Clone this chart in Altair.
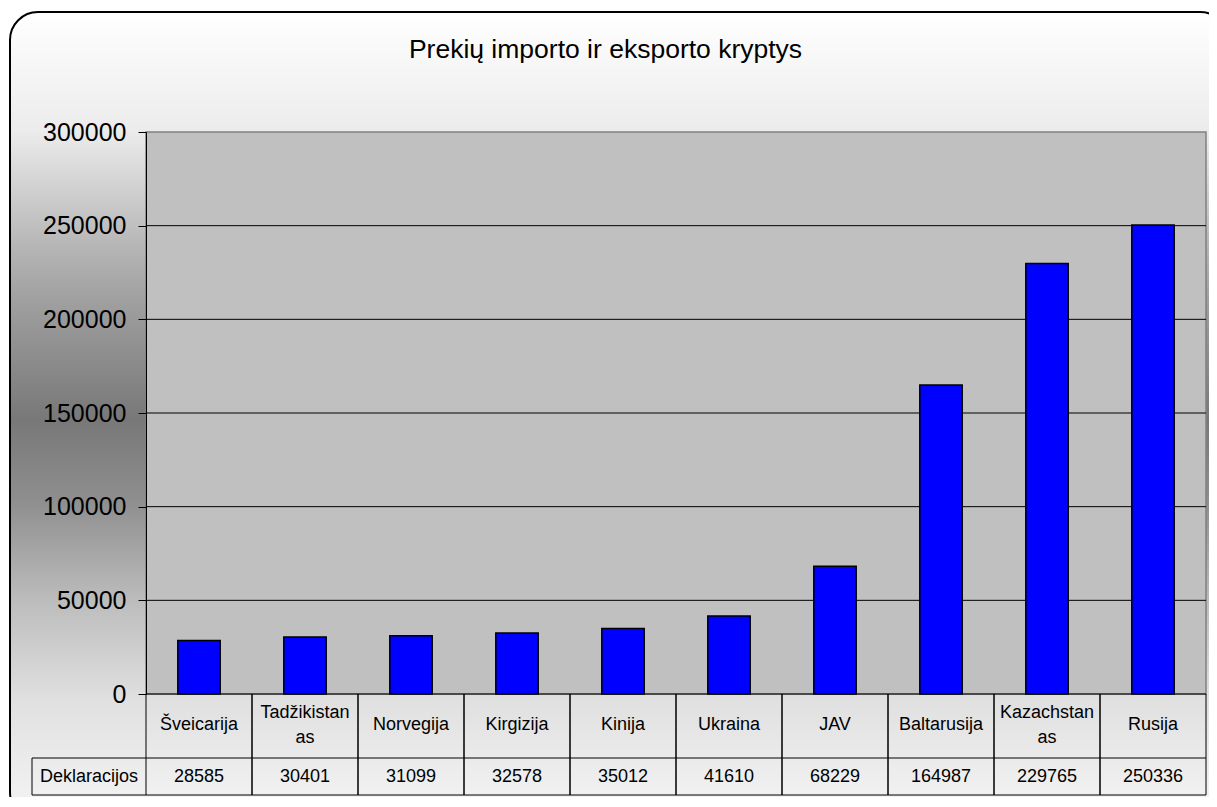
import altair as alt
import pandas as pd

# ---- data ----
categories = ["Šveicarija", "Tadžikistanas", "Norvegija", "Kirgizija", "Kinija",
              "Ukraina", "JAV", "Baltarusija", "Kazachstanas", "Rusija"]
table_labels = ["Šveicarija", "Tadžikistan\nas", "Norvegija", "Kirgizija", "Kinija",
                "Ukraina", "JAV", "Baltarusija", "Kazachstan\nas", "Rusija"]
declarations = [28585, 30401, 31099, 32578, 35012, 41610, 68229, 164987, 229765, 250336]
y_ticks = [0, 50000, 100000, 150000, 200000, 250000, 300000]
grid_values = [0, 50000, 100000, 150000, 200000, 250000]
title_text = "Prekių importo ir eksporto kryptys"
row_label = "Deklaracijos"

df = pd.DataFrame({
    "category": categories,
    "label": table_labels,
    "value": declarations,
    "idx": list(range(len(categories))),
})
grid_df = pd.DataFrame({"tick": grid_values})

FONT = "Liberation Sans"
PW, PH = 1060, 562          # plot area
SVG_W, SVG_H = 1201, 789
TFS = 18                    # table font size

xs = alt.Scale(domain=[0, len(categories)], nice=False, zero=False)
ys = alt.Scale(domain=[0, 300000], nice=False)

y_axis = alt.Axis(
    values=y_ticks, title=None, grid=False, labelFont=FONT, labelFontSize=25,
    labelColor="black", tickColor="black", tickSize=8, tickWidth=1,
    domainColor="black", domainWidth=1, labelPadding=12, labelFlush=False,
    labelOverlap=False, zindex=1, format="d",
)

one = pd.DataFrame({"a": [1]})

gradient = {
    "gradient": "linear", "x1": 0, "y1": 0, "x2": 0, "y2": 1,
    "stops": [
        {"offset": 0.0, "color": "#ffffff"},
        {"offset": 0.146, "color": "#ececec"},
        {"offset": 0.295, "color": "#b4b4b4"},
        {"offset": 0.356, "color": "#a0a0a0"},
        {"offset": 0.505, "color": "#787878"},
        {"offset": 0.604, "color": "#8e8e8e"},
        {"offset": 0.728, "color": "#bcbcbc"},
        {"offset": 0.851, "color": "#e0e0e0"},
        {"offset": 0.963, "color": "#f0f0f0"},
        {"offset": 1.0, "color": "#f4f4f4"},
    ],
}

# outer rounded chart box
box = alt.Chart(one).mark_rect(
    fill=gradient, stroke="black", strokeWidth=2, cornerRadius=28
).encode(
    x=alt.value(-136), x2=alt.value(1082), y=alt.value(-120), y2=alt.value(688)
)

# plot area background
plot_bg = alt.Chart(one).mark_rect(
    fill="#c0c0c0", stroke="#808080", strokeWidth=1.5
).encode(
    x=alt.value(0), x2=alt.value(PW), y=alt.value(0), y2=alt.value(PH)
)

grid = alt.Chart(grid_df).mark_rule(color="black", strokeWidth=1).encode(
    y=alt.Y("tick:Q", scale=ys, axis=y_axis)
)

bars = alt.Chart(df).transform_calculate(
    x0="datum.idx + 0.3", x1="datum.idx + 0.7", zero="0"
).mark_rect(fill="#0000ff", stroke="black", strokeWidth=1.5).encode(
    x=alt.X("x0:Q", scale=xs, axis=None),
    x2="x1:Q",
    y=alt.Y("value:Q", scale=ys, axis=y_axis),
    y2="zero:Q",
)

# data table
vlines_left = alt.Chart(df).mark_rule(color="black", strokeWidth=1).encode(
    x=alt.X("idx:Q", scale=xs, axis=None), y=alt.value(PH), y2=alt.value(663)
)
vlines_right = alt.Chart(df).transform_calculate(e="datum.idx + 1").mark_rule(
    color="black", strokeWidth=1
).encode(x=alt.X("e:Q", scale=xs, axis=None), y=alt.value(PH), y2=alt.value(663))

hline1 = alt.Chart(one).mark_rule(color="black", strokeWidth=1).encode(
    x=alt.value(-114), x2=alt.value(PW), y=alt.value(626)
)
hline2 = alt.Chart(one).mark_rule(color="black", strokeWidth=1).encode(
    x=alt.value(-114), x2=alt.value(PW), y=alt.value(663)
)
lcell = alt.Chart(one).mark_rule(color="black", strokeWidth=1).encode(
    x=alt.value(-114), y=alt.value(626), y2=alt.value(663)
)

lbl_base = alt.Chart(df).transform_calculate(
    mid="datum.idx + 0.5",
    parts="split(datum.label, '\\n')",
    n="length(datum.parts)",
    line1="datum.parts[0]",
    line2="datum.n > 1 ? datum.parts[1] : ''",
)
text_kw = dict(font=FONT, fontSize=TFS, color="black", align="center", baseline="middle")

single_text = lbl_base.transform_filter("datum.n == 1").mark_text(**text_kw).encode(
    x=alt.X("mid:Q", scale=xs, axis=None), y=alt.value(593), text="line1:N"
)
wrap1_text = lbl_base.transform_filter("datum.n > 1").mark_text(**text_kw).encode(
    x=alt.X("mid:Q", scale=xs, axis=None), y=alt.value(581), text="line1:N"
)
wrap2_text = lbl_base.transform_filter("datum.n > 1").mark_text(**text_kw).encode(
    x=alt.X("mid:Q", scale=xs, axis=None), y=alt.value(606), text="line2:N"
)

val_text = alt.Chart(df).transform_calculate(mid="datum.idx + 0.5").mark_text(
    **text_kw
).encode(x=alt.X("mid:Q", scale=xs, axis=None), y=alt.value(645),
         text=alt.Text("value:Q", format="d"))

row_df = pd.DataFrame({"t": [row_label]})
row_text = alt.Chart(row_df).mark_text(**text_kw).encode(
    x=alt.value(-57), y=alt.value(645), text="t:N"
)

title_df = pd.DataFrame({"t": [title_text]})
title = alt.Chart(title_df).mark_text(
    font=FONT, fontSize=26.5, color="black", align="center", baseline="alphabetic"
).encode(x=alt.value(459.5), y=alt.value(-74), text="t:N")

chart = alt.layer(
    box, plot_bg, grid, bars,
    vlines_left, vlines_right, hline1, hline2, lcell,
    single_text, wrap1_text, wrap2_text, val_text, row_text, title,
).properties(
    width=PW, height=PH,
    autosize=alt.AutoSizeParams(type="none"),
    padding={"left": 138, "top": 124, "right": SVG_W - 138 - PW, "bottom": SVG_H - 124 - PH},
    background="white",
).configure_view(stroke=None)

chart.save("out.html", embed_options={"renderer": "svg", "actions": False})
